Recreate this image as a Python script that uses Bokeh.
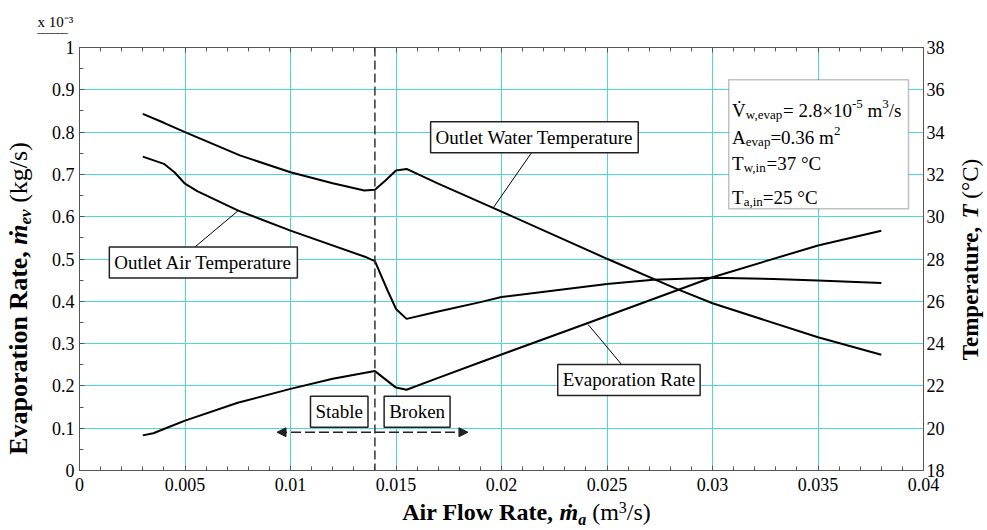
import math
from bokeh.plotting import figure
from bokeh.layouts import row, column
from bokeh.models import (Range1d, LinearAxis, FixedTicker, Label, Span, Arrow,
                          NormalHead, BoxAnnotation, Title)
from bokeh.core.properties import value
from bokeh.embed import file_html
from bokeh.resources import INLINE

# ---------------- data ----------------
FLOW_EVAP = [0.003, 0.0035, 0.004, 0.005, 0.0075, 0.010, 0.012, 0.014, 0.015, 0.0155,
             0.017, 0.019, 0.024, 0.030, 0.035, 0.038]
EVAP = [0.083, 0.088, 0.098, 0.118, 0.160, 0.193, 0.217, 0.235, 0.196, 0.191,
        0.219, 0.256, 0.347, 0.457, 0.532, 0.567]          # x 10^-3 kg/s

FLOW_WATER = [0.003, 0.004, 0.005, 0.0076, 0.010, 0.012, 0.0135, 0.014, 0.0145, 0.015,
              0.0155, 0.017, 0.0196, 0.025, 0.0283, 0.030, 0.035, 0.038]
T_WATER = [34.86, 34.44, 34.0, 32.9, 32.1, 31.58, 31.24, 31.27, 31.71, 32.18,
           32.26, 31.56, 30.42, 28.01, 26.59, 25.91, 24.3, 23.47]   # deg C

FLOW_AIR = [0.003, 0.004, 0.0045, 0.005, 0.0056, 0.0075, 0.010, 0.0136, 0.014, 0.0146,
            0.015, 0.0155, 0.017, 0.019, 0.020, 0.025, 0.0272, 0.030, 0.0329, 0.035, 0.038]
T_AIR = [32.84, 32.5, 32.1, 31.56, 31.2, 30.3, 29.34, 28.08, 27.9, 26.51,
         25.64, 25.17, 25.52, 25.96, 26.2, 26.82, 27.02, 27.11, 27.06, 26.98, 26.87]

TRANSITION_FLOW = 0.014

X_TICKS = [0, 0.005, 0.01, 0.015, 0.02, 0.025, 0.03, 0.035, 0.04]
X_LABELS = ["0", "0.005", "0.01", "0.015", "0.02", "0.025", "0.03", "0.035", "0.04"]
Y_TICKS = [0, 0.1, 0.2, 0.3, 0.4, 0.5, 0.6, 0.7, 0.8, 0.9, 1]
Y_LABELS = ["0", "0.1", "0.2", "0.3", "0.4", "0.5", "0.6", "0.7", "0.8", "0.9", "1"]
T_TICKS = [18, 20, 22, 24, 26, 28, 30, 32, 34, 36, 38]

V_W_EVAP_MANT = "2.8"
V_W_EVAP_EXP = "-5"
A_EVAP = "0.36"
T_W_IN = "37"
T_A_IN = "25"

# ---------------- styling ----------------
FONT = "Liberation Serif"
GRID = "#4fd8d8"
AX = "#555555"

TIMES_R = {' ': 250, ',': 250, '-': 333, '.': 250, '/': 278, '=': 564, '×': 564, '°': 400,
           '(': 333, ')': 333, 'A': 722, 'C': 667, 'T': 611, 'V': 722, 'a': 444, 'e': 444,
           'g': 500, 'i': 278, 'k': 500, 'm': 778, 'n': 500, 'p': 500, 's': 389, 'v': 500,
           'w': 722, 'x': 500, '\u0307': 0}
TIMES_B = {' ': 250, ',': 250, 'A': 722, 'E': 667, 'F': 611, 'R': 722, 'T': 667, 'a': 500,
           'e': 444, 'i': 278, 'l': 278, 'm': 833, 'n': 556, 'o': 500, 'p': 556, 'r': 444,
           't': 333, 'u': 556, 'v': 500, 'w': 722}
TIMES_BI = {' ': 250, 'ṁ': 778, 'm': 778, 'T': 611, 'a': 500, 'e': 444, 'v': 444}
METRICS = {"normal": TIMES_R, "bold": TIMES_B, "bold italic": TIMES_BI}
MID = 0.34   # distance (em) from the alphabetic baseline up to the text-box middle

def tw(s, size, style="normal"):
    tab = METRICS[style]
    return sum(tab.get(c, 500) for c in s) * size / 1000.0

# ---------------- layout sizes ----------------
W, H = 987, 530
LEFT_W, RIGHT_W, BOTTOM_H = 36, 40, 30
MAIN_W, MAIN_H = W - LEFT_W - RIGHT_W, H - BOTTOM_H
BORDER_TOP, BORDER_BOTTOM = 47, 30

p = figure(width=MAIN_W, height=MAIN_H, x_range=Range1d(0, 0.04), y_range=Range1d(0, 1),
           output_backend="svg", toolbar_location=None,
           min_border_left=43, min_border_right=24,
           min_border_top=BORDER_TOP, min_border_bottom=BORDER_BOTTOM)
p.extra_y_ranges = {"T": Range1d(18, 38)}
p.outline_line_color = AX
p.outline_line_width = 1
p.background_fill_color = "white"

top = LinearAxis(axis_line_color=AX)
p.add_layout(top, "above")
right = LinearAxis(y_range_name="T")
p.add_layout(right, "right")

minor_x = [i * 0.001 for i in range(41)]
for ax in (p.below[0], top):
    ax.ticker = FixedTicker(ticks=X_TICKS, minor_ticks=minor_x)
    ax.major_tick_in = 5
    ax.major_tick_out = 0
    ax.minor_tick_in = 4
    ax.minor_tick_out = 0
    ax.major_tick_line_color = AX
    ax.minor_tick_line_color = AX
    ax.axis_line_color = AX

top.major_label_overrides = {t: "" for t in X_TICKS}
top.major_label_standoff = 0

bx = p.below[0]
bx.major_label_overrides = dict(zip(X_TICKS, X_LABELS))
bx.major_label_standoff = 7

ly = p.left[0]
ly.ticker = FixedTicker(ticks=Y_TICKS, minor_ticks=[0.05 + 0.1 * i for i in range(10)])
ly.major_label_overrides = dict(zip(Y_TICKS, Y_LABELS))
ly.major_tick_in = 5
ly.major_tick_out = 0
ly.minor_tick_in = 4
ly.minor_tick_out = 0
ly.major_label_standoff = 5
ly.axis_line_color = AX
ly.major_tick_line_color = AX
ly.minor_tick_line_color = AX

right.ticker = FixedTicker(ticks=T_TICKS)
right.major_tick_in = 0
right.major_tick_out = 0
right.minor_tick_line_color = None
right.major_label_standoff = 3
right.axis_line_color = AX

for ax in (bx, ly, right):
    ax.major_label_text_font = FONT
    ax.major_label_text_font_size = "18px"
    ax.major_label_text_color = "black"

p.xgrid.ticker = FixedTicker(ticks=X_TICKS)
p.ygrid.ticker = FixedTicker(ticks=Y_TICKS)
p.xgrid.grid_line_color = GRID
p.ygrid.grid_line_color = GRID

# scale note "x 10^-3" (underlined) above the left axis
p.add_layout(Title(text="‾‾‾‾‾‾", align="left", offset=-42, standoff=0,
                   text_font=FONT, text_font_size="15px", text_font_style="normal",
                   text_color="black"), "above")
p.add_layout(Title(text="x 10⁻³", align="left", offset=-42, standoff=0,
                   text_font=FONT, text_font_size="15px", text_font_style="normal",
                   text_color="black"), "above")

# ---------------- curves ----------------
p.line(FLOW_EVAP, EVAP, line_color="black", line_width=2)
p.line(FLOW_WATER, T_WATER, line_color="black", line_width=2, y_range_name="T")
p.line(FLOW_AIR, T_AIR, line_color="black", line_width=2, y_range_name="T")

p.add_layout(Span(location=TRANSITION_FLOW, dimension="height", line_color="#333333",
                  line_width=1.5, line_dash="9 4"))

LEADER_X0 = [0.02142, 0.00546, 0.02577]
LEADER_Y0 = [0.751, 0.528, 0.2459]
LEADER_X1 = [0.01961, 0.00754, 0.02411]
LEADER_Y1 = [0.621, 0.615, 0.345]
p.segment(LEADER_X0, LEADER_Y0, LEADER_X1, LEADER_Y1, line_color="black", line_width=1)

def boxed(text, x, y):
    p.add_layout(Label(x=x, y=y, text=text, text_font=FONT, text_font_size="19px",
                       text_align="center", text_baseline="middle", text_color="black",
                       background_fill_color="white", border_line_color="#222222",
                       border_line_width=1.5, padding=5))

boxed("Outlet Water Temperature", 0.02156, 0.788)
boxed("Outlet Air Temperature", 0.00587, 0.492)
boxed("Evaporation Rate", 0.02604, 0.214)
boxed("Stable", 0.01231, 0.139)
boxed("Broken", 0.01600, 0.139)

p.add_layout(Arrow(x_start=0.00936, y_start=0.0905, x_end=0.01841, y_end=0.0905,
                   line_color="#222222", line_width=1.5, line_dash="10 4",
                   start=NormalHead(size=9, fill_color="#222222", line_color="#222222"),
                   end=NormalHead(size=9, fill_color="#222222", line_color="#222222")))

# ---------------- info box ----------------
p.add_layout(BoxAnnotation(left=0.03077, right=0.03929, bottom=0.619, top=0.924,
                           fill_color="white", fill_alpha=1.0, line_color="#333333",
                           line_width=1.5))

MAIN, SMALL = 19, 13
INFO_X = 0.03093
INFO_LINES = [
    (0.851, [("V\u0307", "n"), ("w,evap", "sub"), ("= " + V_W_EVAP_MANT + "×10", "n"),
             (V_W_EVAP_EXP, "sup"), (" m", "n"), ("3", "sup"), ("/s", "n")]),
    (0.787, [("A", "n"), ("evap", "sub"), ("=" + A_EVAP + " m", "n"), ("2", "sup")]),
    (0.726, [("T", "n"), ("w,in", "sub"), ("=" + T_W_IN + " °C", "n")]),
    (0.645, [("T", "n"), ("a,in", "sub"), ("=" + T_A_IN + " °C", "n")]),
]
for yy, pieces in INFO_LINES:
    off = 0.0
    for txt, kind in pieces:
        size = MAIN if kind == "n" else SMALL
        dy = {"n": 0, "sub": -4, "sup": 7}[kind]
        lead = len(txt) - len(txt.lstrip(" "))
        shown = txt.lstrip(" ")
        off += tw(" " * lead, size)
        p.add_layout(Label(x=INFO_X, y=yy, x_offset=off, y_offset=dy, text=shown,
                           text_font=FONT, text_font_size=f"{size}px",
                           text_baseline="alphabetic", text_color="black"))
        off += tw(shown, size)

# ---------------- axis titles (mixed styles) in side strips ----------------
def strip(w, h, y_range):
    f = figure(width=w, height=h, x_range=Range1d(0, w), y_range=y_range,
               output_backend="svg", toolbar_location=None, min_border=0,
               x_axis_type=None, y_axis_type=None, title=None)
    f.outline_line_color = None
    f.background_fill_color = "white"
    f.border_fill_color = "white"
    return f

def mixed_label(fig, pieces, size, center, base, rotated):
    """base = position of the alphabetic baseline (strip units)."""
    sizes = [size if k == "n" else round(size * 0.65) for _, _, k in pieces]
    widths = [tw(t, s, st) for (t, st, _), s in zip(pieces, sizes)]
    pos = center - sum(widths) / 2.0
    for (t, st, k), s, w in zip(pieces, sizes, widths):
        up = {"n": 0, "sub": -4, "sup": 8}[k] + MID * s   # towards the glyph tops
        if rotated:
            x, y = base - up, pos
        else:
            x, y = pos, base + up
        fig.text(x=[x], y=[y], text=[t.rstrip(" ")], angle=math.pi / 2 if rotated else 0,
                 text_align="left", text_baseline="middle", text_color="black",
                 text_font=value(FONT), text_font_size=f"{s}px", text_font_style=st)
        pos += w

# side strips: their frames line up with the main frame, so y = MAIN_H - page_y
pl = strip(LEFT_W, MAIN_H, Range1d(BORDER_BOTTOM, MAIN_H - BORDER_TOP))
pl.min_border_top, pl.min_border_bottom = BORDER_TOP, BORDER_BOTTOM
mixed_label(pl, [("Evaporation Rate, ", "bold", "n"), ("ṁ", "bold italic", "n"),
                 ("ev", "bold italic", "sub"), (" ", "bold", "n"),
                 ("(kg/s)", "normal", "n")], 26, MAIN_H - 298, 27, True)

pr = strip(RIGHT_W, MAIN_H, Range1d(BORDER_BOTTOM, MAIN_H - BORDER_TOP))
pr.min_border_top, pr.min_border_bottom = BORDER_TOP, BORDER_BOTTOM
mixed_label(pr, [("Temperature, ", "bold", "n"), ("T", "bold italic", "n"),
                 (" ", "bold", "n"), ("(°C)", "normal", "n")], 23, MAIN_H - 259, 31, True)

pb = strip(W, BOTTOM_H, Range1d(0, BOTTOM_H))
mixed_label(pb, [("Air Flow Rate, ", "bold", "n"), ("ṁ", "bold italic", "n"),
                 ("a", "bold italic", "sub"), (" ", "bold", "n"), ("(m", "normal", "n"),
                 ("3", "normal", "sup"), ("/s)", "normal", "n")],
            24, 526, H - 520, False)

layout = column(row(pl, p, pr), pb)
open("out.html", "w").write(file_html(layout, INLINE))
